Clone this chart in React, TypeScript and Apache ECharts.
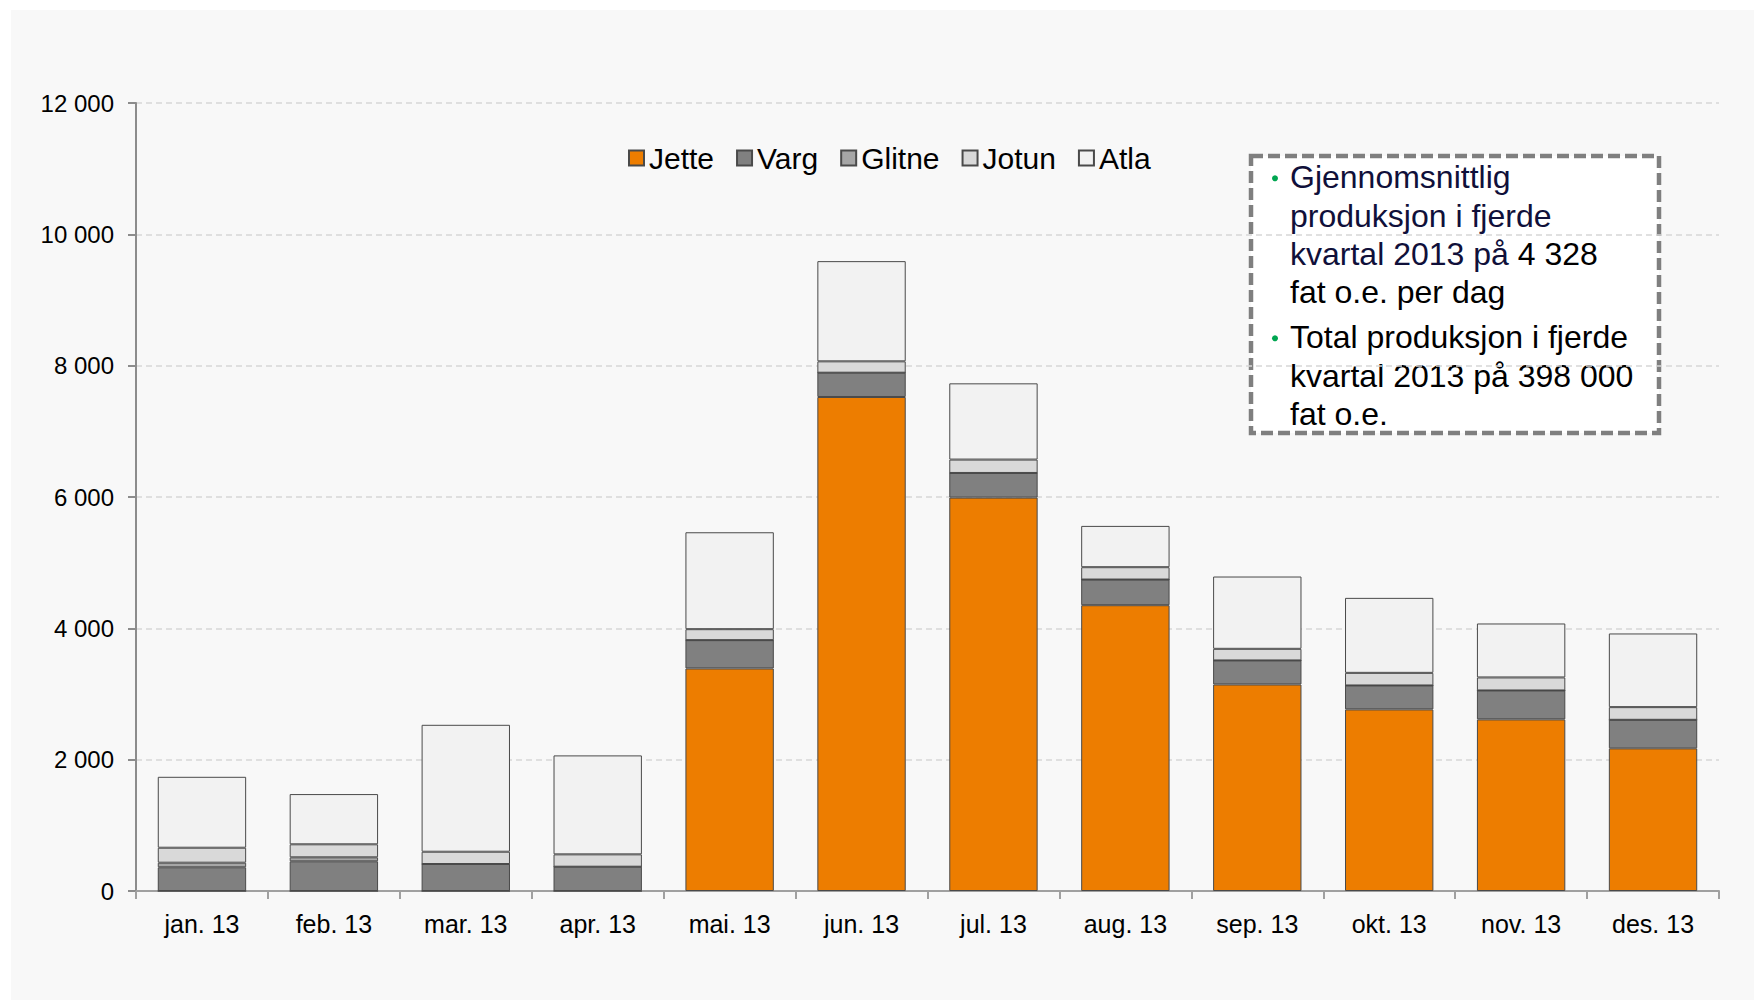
import React, { useEffect, useRef } from "react";
import * as echarts from "echarts";

const categories = ["jan. 13", "feb. 13", "mar. 13", "apr. 13", "mai. 13", "jun. 13", "jul. 13", "aug. 13", "sep. 13", "okt. 13", "nov. 13", "des. 13"];
const jette = [0, 0, 0, 0, 3389, 7523, 5991, 4352, 3145, 2765, 2613, 2172];
const varg = [361, 452, 411, 370, 431, 370, 375, 391, 366, 365, 441, 435];
const glitne = [70, 61, 0, 0, 0, 0, 0, 0, 0, 0, 0, 0];
const jotun = [228, 198, 187, 188, 167, 173, 204, 188, 177, 192, 198, 193];
const atla = [1080, 765, 1933, 1507, 1476, 1526, 1161, 629, 1101, 1142, 822, 1122];

const seriesNames = ["Jette", "Varg", "Glitne", "Jotun", "Atla"];
const seriesColors = ["#ED7D00", "#808080", "#A6A6A6", "#D9D9D9", "#F2F2F2"];
const seriesData = [jette, varg, glitne, jotun, atla];

const FONT = "'Liberation Sans', Arial, Helvetica, sans-serif";

export default function App() {
  const ref = useRef<HTMLDivElement>(null);
  useEffect(() => {
    document.body.style.margin = "0";
    if (!ref.current) return;
    const chart = echarts.init(ref.current, undefined, { renderer: "svg" });
    const navy = "#10103a";
    const tx = 1279;
    const fs = 32;
    const off = 11;
    const line = (text: string, baseline: number, fill: string) => ({
      type: "text",
      x: tx,
      y: baseline - off,
      style: { text, fill, font: `${fs}px ${FONT}`, verticalAlign: "middle", align: "left" },
    });
    chart.setOption({
      animation: false,
      backgroundColor: "transparent",
      textStyle: { fontFamily: FONT },
      grid: { left: 125, right: 35, top: 93, bottom: 109, containLabel: false },
      legend: {
        data: seriesNames,
        left: 612,
        top: 128,
        itemWidth: 15,
        itemHeight: 15,
        itemGap: 22,
        icon: "rect",
        textStyle: { fontSize: 30, color: "#000", fontFamily: FONT },
      },
      xAxis: {
        type: "category",
        data: categories,
        axisLine: { lineStyle: { color: "#a0a0a0", width: 2 } },
        axisTick: { show: true, length: 8, lineStyle: { color: "#a0a0a0", width: 2 } },
        axisLabel: { fontSize: 25, color: "#000", margin: 20, fontFamily: FONT },
      },
      yAxis: {
        type: "value",
        min: 0,
        max: 12000,
        interval: 2000,
        axisLine: { show: true, lineStyle: { color: "#8c8c8c", width: 2 } },
        axisTick: { show: true, length: 8, lineStyle: { color: "#8c8c8c", width: 2 } },
        axisLabel: {
          fontSize: 24,
          color: "#000",
          margin: 22,
          fontFamily: FONT,
          formatter: (v: number) => String(v).replace(/\B(?=(\d{3})+(?!\d))/g, " "),
        },
        splitLine: { show: true, lineStyle: { color: "#d6d6d6", width: 1.5, type: [6, 4] } },
      },
      series: seriesNames.map((name, i) => ({
        name,
        type: "bar",
        stack: "total",
        barCategoryGap: "33%",
        data: seriesData[i],
        itemStyle: { color: seriesColors[i], borderColor: "#4a4a4a", borderWidth: 1 },
      })),
      graphic: [
        {
          type: "group",
          children: [
            {
              type: "rect",
              shape: { x: 1240, y: 146, width: 408, height: 277 },
              style: { fill: "#ffffff", stroke: "#7f7f7f", lineWidth: 4.5, lineDash: [12, 5] },
            },
            { type: "circle", shape: { cx: 1264, cy: 168.3, r: 3 }, style: { fill: "#00A651" } },
            { type: "circle", shape: { cx: 1264, cy: 328.3, r: 3 }, style: { fill: "#00A651" } },
            line("Gjennomsnittlig", 178, navy),
            line("produksjon i fjerde", 216.7, navy),
            {
              type: "text",
              x: tx,
              y: 255 - off,
              style: {
                text: "{a|kvartal 2013 på }{b|4 328}",
                font: `${fs}px ${FONT}`,
                verticalAlign: "middle",
                align: "left",
                rich: {
                  a: { fill: navy, fontSize: fs, fontFamily: FONT },
                  b: { fill: "#000", fontSize: fs, fontFamily: FONT },
                },
              },
            },
            line("fat o.e. per dag", 293, "#000"),
            line("Total produksjon i fjerde", 338.3, "#000"),
            line("kvartal 2013 på 398 000", 376.7, "#000"),
            line("fat o.e.", 415, "#000"),
          ],
        },
      ],
    });
    return () => chart.dispose();
  }, []);
  return (
    <div style={{ position: "relative", width: 1754, height: 1000, background: "#ffffff" }}>
      <div
        ref={ref}
        style={{ position: "absolute", left: 11, top: 10, width: 1743, height: 990, background: "#f8f8f8" }}
      />
    </div>
  );
}
